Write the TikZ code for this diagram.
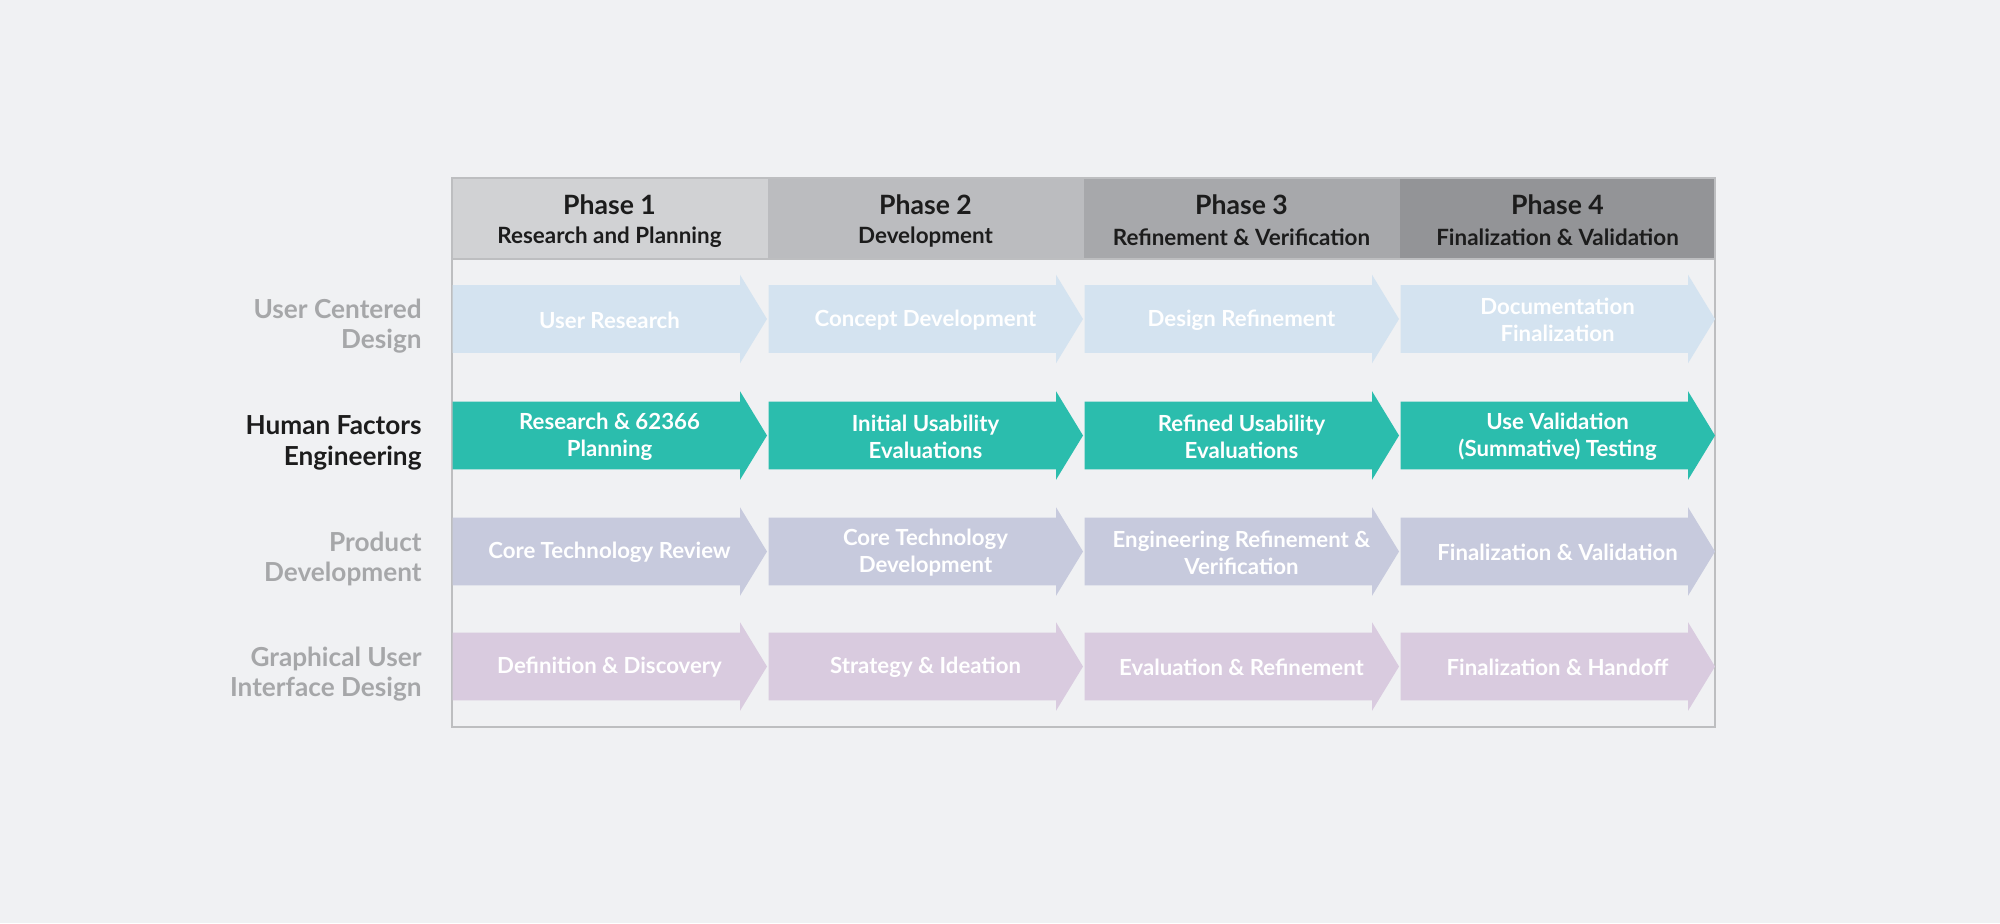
\documentclass[tikz,border=0pt]{standalone}
\usepackage{fontspec}
\setmainfont{Lato}
\definecolor{bg}{HTML}{F0F1F3}
\definecolor{hA}{HTML}{D1D2D4}
\definecolor{hB}{HTML}{BBBCBF}
\definecolor{hC}{HTML}{A7A8AB}
\definecolor{hD}{HTML}{939497}
\definecolor{frame}{HTML}{BDBEC0}
\definecolor{rowA}{HTML}{D4E3F0}
\definecolor{rowB}{HTML}{2BBDAD}
\definecolor{rowC}{HTML}{C7CADD}
\definecolor{rowD}{HTML}{D9CBDF}
\definecolor{lblgray}{HTML}{A6A7A9}
\definecolor{dark}{HTML}{1C1C1C}
\newcommand\pharrow[5]{%
  \fill[#3] (#1+1,#2-33.8) -- (#1+288.5,#2-33.8) -- (#1+288.5,#2-44.3) -- (#1+315.5,#2) -- (#1+288.5,#2+44.3) -- (#1+288.5,#2+33.8) -- (#1+1,#2+33.8) -- cycle;
  \node[arrtext] (#4) at (#1+158,#2+1) {#5};}
\begin{document}
\begin{tikzpicture}[x=0.5pt,y=-0.5pt,
  arrtext/.style={text=white,font=\bfseries\fontsize{11.1pt}{13.5pt}\selectfont,align=center,inner sep=0pt},
  phtitle/.style={text=dark,font=\bfseries\fontsize{13.3pt}{15pt}\selectfont,inner sep=0pt},
  phsub/.style={text=dark,font=\bfseries\fontsize{11.2pt}{13pt}\selectfont,inner sep=0pt},
  rowlbl/.style={text=lblgray,font=\bfseries\fontsize{13.1pt}{15.3pt}\selectfont,align=right,anchor=east,inner sep=0pt}]
\useasboundingbox (0,0) rectangle (2000,923);
\fill[bg] (0,0) rectangle (2000,923);
% header cells
\fill[hA] (451.5,177.5) rectangle (767.5,258.5);
\fill[hB] (767.5,177.5) rectangle (1083.5,258.5);
\fill[hC] (1083.5,177.5) rectangle (1399.5,258.5);
\fill[hD] (1399.5,177.5) rectangle (1715,258.5);
\draw[frame,line width=1pt] (451.5,177.5) rectangle (1715,727);
\draw[frame,line width=1pt] (451.5,258.5) -- (1715,258.5);
% header texts
\node[phtitle] (p1) at (609.5,205) {Phase 1};
\node[phsub] (s1) at (609.5,237) {Research and Planning};
\node[phtitle] (p2) at (925.5,205) {Phase 2};
\node[phsub] (s2) at (925.5,237) {Development};
\node[phtitle] (p3) at (1241.5,205) {Phase 3};
\node[phsub] (s3) at (1241.5,237) {Refinement \& Verification};
\node[phtitle] (p4) at (1557.5,205) {Phase 4};
\node[phsub] (s4) at (1557.5,237) {Finalization \& Validation};
% row labels
\node[rowlbl] (l1) at (422,326) {User Centered\\Design};
\node[rowlbl,text=dark] (l2) at (422,443) {Human Factors\\Engineering};
\node[rowlbl] (l3) at (422,559) {Product\\Development};
\node[rowlbl] (l4) at (422,674) {Graphical User\\Interface Design};
% row 1
\pharrow{451.5}{319}{rowA}{a11}{User Research}
\pharrow{767.5}{319}{rowA}{a12}{Concept Development}
\pharrow{1083.5}{319}{rowA}{a13}{Design Refinement}
\pharrow{1399.5}{319}{rowA}{a14}{Documentation\\Finalization}
% row 2
\pharrow{451.5}{435.5}{rowB}{a21}{Research \& 62366\\Planning}
\pharrow{767.5}{435.5}{rowB}{a22}{Initial Usability\\Evaluations}
\pharrow{1083.5}{435.5}{rowB}{a23}{Refined Usability\\Evaluations}
\pharrow{1399.5}{435.5}{rowB}{a24}{Use Validation\\(Summative) Testing}
% row 3
\pharrow{451.5}{551.5}{rowC}{a31}{Core Technology Review}
\pharrow{767.5}{551.5}{rowC}{a32}{Core Technology\\Development}
\pharrow{1083.5}{551.5}{rowC}{a33}{Engineering Refinement \&\\Verification}
\pharrow{1399.5}{551.5}{rowC}{a34}{Finalization \& Validation}
% row 4
\pharrow{451.5}{666.5}{rowD}{a41}{Definition \& Discovery}
\pharrow{767.5}{666.5}{rowD}{a42}{Strategy \& Ideation}
\pharrow{1083.5}{666.5}{rowD}{a43}{Evaluation \& Refinement}
\pharrow{1399.5}{666.5}{rowD}{a44}{Finalization \& Handoff}
\end{tikzpicture}
\end{document}
